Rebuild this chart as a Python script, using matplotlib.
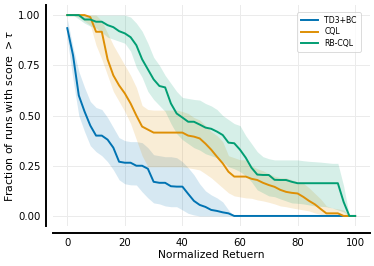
import numpy as np
import matplotlib
matplotlib.use("Agg")
import matplotlib.pyplot as plt

# normalized return thresholds (tau)
tau = [0, 2, 4, 6, 8, 10, 12, 14, 16, 18, 20, 22, 24, 26, 28, 30, 32, 34, 36, 38, 40,
       42, 44, 46, 48, 50, 52, 54, 56, 58, 60, 62, 64, 66, 68, 70, 72, 74, 76, 78, 80,
       82, 84, 86, 88, 90, 92, 94, 96, 98, 100]

td3bc = [0.935, 0.80, 0.60, 0.52, 0.45, 0.40, 0.40, 0.38, 0.34, 0.27, 0.265, 0.265, 0.25, 0.25,
         0.235, 0.17, 0.165, 0.165, 0.148, 0.146, 0.146, 0.11, 0.075, 0.055, 0.045, 0.03, 0.025,
         0.018, 0.013, 0, 0, 0, 0, 0, 0, 0, 0, 0, 0, 0, 0, 0, 0, 0, 0, 0, 0, 0, 0, 0, 0]
td3bc_lo = [0.88, 0.68, 0.50, 0.42, 0.35, 0.32, 0.30, 0.27, 0.23, 0.18, 0.16, 0.155, 0.154, 0.12,
            0.09, 0.065, 0.06, 0.05, 0.046, 0.046, 0.03, 0.013, 0.005, 0, 0, 0, 0, 0, 0, 0, 0,
            0, 0, 0, 0, 0, 0, 0, 0, 0, 0, 0, 0, 0, 0, 0, 0, 0, 0, 0, 0]
td3bc_hi = [0.98, 0.84, 0.72, 0.64, 0.57, 0.54, 0.53, 0.49, 0.44, 0.39, 0.375, 0.37, 0.37, 0.365,
            0.34, 0.305, 0.30, 0.295, 0.295, 0.29, 0.27, 0.24, 0.205, 0.16, 0.125, 0.105, 0.09,
            0.07, 0.03, 0, 0, 0, 0, 0, 0, 0, 0, 0, 0, 0, 0, 0, 0, 0, 0, 0, 0, 0, 0, 0, 0]

cql = [1.0, 1.0, 1.0, 1.0, 0.99, 0.917, 0.917, 0.78, 0.70, 0.65, 0.61, 0.56, 0.50, 0.445, 0.43,
       0.415, 0.415, 0.415, 0.415, 0.415, 0.415, 0.40, 0.395, 0.386, 0.36, 0.33, 0.295, 0.262,
       0.22, 0.196, 0.196, 0.196, 0.185, 0.179, 0.165, 0.154, 0.145, 0.13, 0.12, 0.115, 0.112,
       0.095, 0.075, 0.058, 0.035, 0.013, 0.013, 0.013, 0, 0, 0]
cql_lo = [1.0, 1.0, 0.99, 0.97, 0.95, 0.85, 0.78, 0.70, 0.62, 0.57, 0.52, 0.46, 0.38, 0.30, 0.245,
          0.245, 0.245, 0.245, 0.245, 0.245, 0.245, 0.24, 0.235, 0.229, 0.21, 0.19, 0.165, 0.14,
          0.115, 0.10, 0.095, 0.09, 0.088, 0.08, 0.075, 0.068, 0.06, 0.05, 0.046, 0.04, 0.035,
          0.03, 0.025, 0.015, 0.008, 0, 0, 0, 0, 0, 0]
cql_hi = [1.0, 1.0, 1.0, 1.0, 1.0, 1.0, 0.97, 0.91, 0.85, 0.80, 0.75, 0.70, 0.64, 0.55, 0.53,
          0.527, 0.527, 0.527, 0.527, 0.527, 0.52, 0.51, 0.49, 0.478, 0.45, 0.42, 0.40, 0.37,
          0.30, 0.29, 0.28, 0.279, 0.25, 0.235, 0.225, 0.21, 0.198, 0.19, 0.19, 0.18, 0.17,
          0.163, 0.14, 0.112, 0.085, 0.05, 0.04, 0.035, 0.03, 0, 0]

rbcql = [1.0, 1.0, 1.0, 0.978, 0.978, 0.967, 0.967, 0.95, 0.94, 0.92, 0.909, 0.89, 0.85, 0.78,
         0.73, 0.68, 0.647, 0.64, 0.56, 0.51, 0.49, 0.469, 0.469, 0.455, 0.44, 0.434, 0.42,
         0.403, 0.365, 0.362, 0.33, 0.29, 0.24, 0.206, 0.204, 0.204, 0.18, 0.179, 0.179, 0.17,
         0.163, 0.163, 0.163, 0.163, 0.163, 0.163, 0.163, 0.163, 0.07, 0, 0]
rbcql_lo = [1.0, 1.0, 0.98, 0.96, 0.945, 0.935, 0.915, 0.89, 0.88, 0.87, 0.86, 0.82, 0.74, 0.69,
            0.62, 0.58, 0.55, 0.52, 0.46, 0.41, 0.38, 0.36, 0.34, 0.328, 0.31, 0.30, 0.29, 0.27,
            0.245, 0.235, 0.221, 0.20, 0.17, 0.13, 0.115, 0.10, 0.096, 0.085, 0.075, 0.065,
            0.063, 0.06, 0.055, 0.05, 0.048, 0.046, 0.04, 0.03, 0.02, 0, 0]
rbcql_hi = [1.0, 1.0, 1.0, 1.0, 1.0, 1.0, 1.0, 1.0, 1.0, 1.0, 1.0, 0.99, 0.96, 0.92, 0.86, 0.79,
            0.75, 0.70, 0.66, 0.62, 0.59, 0.585, 0.58, 0.577, 0.56, 0.548, 0.53, 0.50, 0.48,
            0.46, 0.45, 0.40, 0.36, 0.32, 0.295, 0.285, 0.279, 0.279, 0.279, 0.279, 0.279,
            0.275, 0.272, 0.27, 0.268, 0.265, 0.262, 0.262, 0.15, 0, 0]

series = [
    ("TD3+BC", td3bc, td3bc_lo, td3bc_hi, "#0173b2"),
    ("CQL", cql, cql_lo, cql_hi, "#de8f05"),
    ("RB-CQL", rbcql, rbcql_lo, rbcql_hi, "#029e73"),
]

fig = plt.figure(figsize=(3.74, 2.66), dpi=100)
ax = fig.add_axes([0.1414, 0.1504, 0.8466, 0.8306])

for label, mean, lo, hi, color in series:
    ax.fill_between(tau, lo, hi, color=color, alpha=0.16, linewidth=0)
    ax.plot(tau, mean, color=color, lw=1.4, label=label)

ax.set_xlim(-5, 105)
ax.set_ylim(-0.05, 1.05)
ax.set_xticks([0, 20, 40, 60, 80, 100])
ax.set_yticks([0.0, 0.25, 0.5, 0.75, 1.0])
ax.set_yticklabels(["0.00", "0.25", "0.50", "0.75", "1.00"])
ax.grid(True, color="#ebebeb", lw=0.7)
ax.set_axisbelow(True)

for side in ["top", "right"]:
    ax.spines[side].set_visible(False)
for side in ["left", "bottom"]:
    ax.spines[side].set_position(("outward", 5))
    ax.spines[side].set_linewidth(1.4)
    ax.spines[side].set_color("black")
ax.tick_params(length=0, pad=4, labelsize=7.3)

ax.set_xlabel("Normalized Retuern", fontsize=7.7, labelpad=1)
ax.set_ylabel(r"Fraction of runs with score $>\tau$", fontsize=7.9, labelpad=2)

leg = ax.legend(loc="upper right", fontsize=5.6, handlelength=2.2, borderpad=0.5,
                labelspacing=0.3, bbox_to_anchor=(0.985, 0.985))
leg.get_frame().set_linewidth(0.6)

fig.savefig("out.png", dpi=100)
